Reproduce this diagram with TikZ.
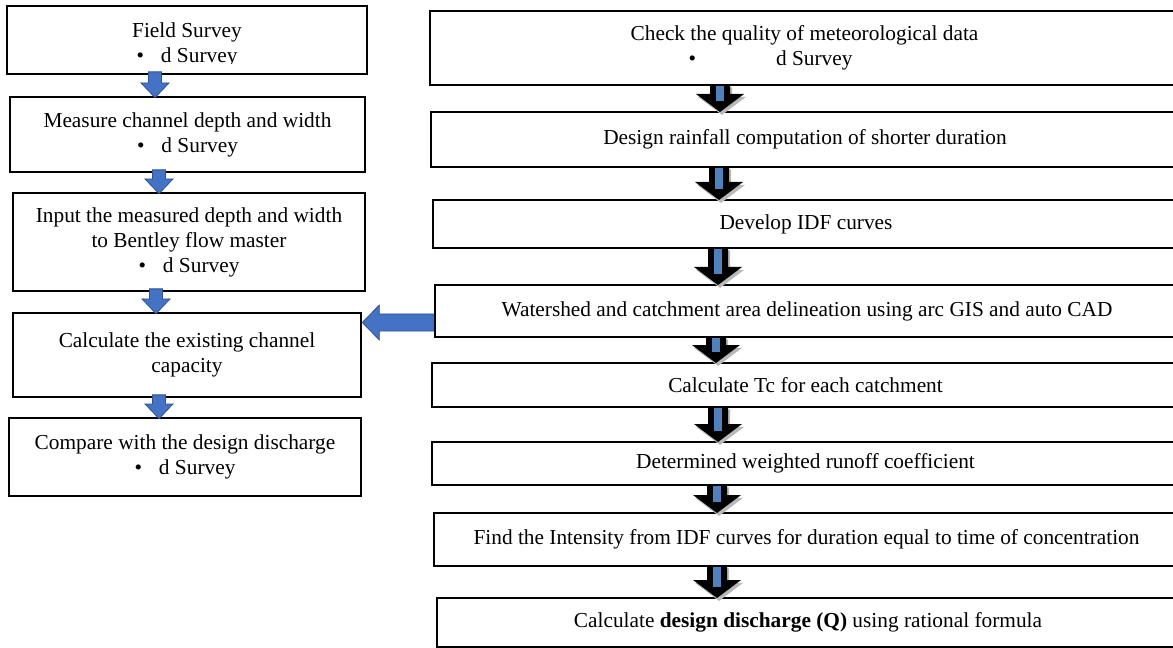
\documentclass[tikz,border=0pt]{standalone}
\usepackage{fontspec}
\setmainfont{Liberation Serif}
\usetikzlibrary{calc}
\definecolor{arrblue}{HTML}{4472C4}
\definecolor{arrborder}{HTML}{2F528F}
\definecolor{stripblue}{HTML}{4F81BD}
% blue block arrow pointing down: from node, to node, x position (px)
\newcommand{\bluedown}[3]{%
  \fill[bluearrow] let \p1=(#1.south), \p2=(#2.north), \n1={#3*0.75} in
   (\n1pt-4.9pt,\y1+2.6pt) -- (\n1pt+4.9pt,\y1+2.6pt) -- (\n1pt+4.9pt,\y2+9.5pt)
   -- (\n1pt+10.5pt,\y2+9.5pt) -- (\n1pt,\y2-1.5pt) -- (\n1pt-10.5pt,\y2+9.5pt)
   -- (\n1pt-4.9pt,\y2+9.5pt) -- cycle;}
% dark block arrow with shadow: from node, to node, x position (px)
\newcommand{\darkdown}[3]{%
  \fill[gray!55] let \p1=(#1.south), \p2=(#2.north), \n1={#3*0.75+1.5} in
   (\n1pt-7.5pt,\y1+1.5pt-2.2pt) -- (\n1pt+7.5pt,\y1+1.5pt-2.2pt) -- (\n1pt+7.5pt,\y2+12.5pt-2.2pt)
   -- (\n1pt+18pt,\y2+12.5pt-2.2pt) -- (\n1pt,\y2-1pt-2.2pt) -- (\n1pt-18pt,\y2+12.5pt-2.2pt)
   -- (\n1pt-7.5pt,\y2+12.5pt-2.2pt) -- cycle;
  \fill[black] let \p1=(#1.south), \p2=(#2.north), \n1={#3*0.75} in
   (\n1pt-7.5pt,\y1+1.5pt) -- (\n1pt+7.5pt,\y1+1.5pt) -- (\n1pt+7.5pt,\y2+12.5pt)
   -- (\n1pt+18pt,\y2+12.5pt) -- (\n1pt,\y2-1pt) -- (\n1pt-18pt,\y2+12.5pt)
   -- (\n1pt-7.5pt,\y2+12.5pt) -- cycle;
  \fill[stripblue] let \p1=(#1.south), \p2=(#2.north), \n1={#3*0.75} in
   (\n1pt-3pt,\y1) rectangle (\n1pt+3pt,\y2+7pt);}
\tikzset{
  box/.style 2 args={draw=black, line width=2pt, inner sep=0pt, fill=white,
    minimum width=#1*0.75pt, minimum height=#2*0.75pt,
    font=\fontsize{16}{18.75}\selectfont, align=center},
  txt/.style={inner sep=0pt, font=\fontsize{16}{18.75}\selectfont, align=center},
  bluearrow/.style={fill=arrblue, draw=arrborder, line width=0.6pt},
}
\begin{document}
\begin{tikzpicture}[x=0.75pt,y=-0.75pt]
\useasboundingbox (0,0) rectangle (1173,648);
\clip (0,0) rectangle (1173,648);
\fill[white] (0,0) rectangle (1173,648);

% left column
\node[box={360}{68}] (L1) at (187,40) {};
\begin{scope}
  \clip (7,6) rectangle (367,63.5);
  \node[txt] (L1t) at (187,45) {Field Survey\\\textbullet\hspace{12.75pt}d Survey};
\end{scope}
\node[box={355}{75}] (L2) at (187.5,134.5) {Measure channel depth and width\\\textbullet\hspace{12.75pt}d Survey};
\node[box={352}{98}] (L3) at (189,242) {Input the measured depth and width\\to Bentley flow master\\\textbullet\hspace{12.75pt}d Survey};
\node[box={348}{84}] (L4) at (187,355) {Calculate the existing channel\\capacity};
\node[box={352}{78}] (L5) at (185,457) {Compare with the design discharge\\\textbullet\hspace{12.75pt}d Survey};

% right column
\node[box={749}{74}] (R1) at (804.5,48) {Check the quality of meteorological data\\\textbullet\hspace{60pt}d Survey\rule{51pt}{0pt}};
\node[box={748}{55}] (R2) at (805,139.5) {Design rainfall computation of shorter duration};
\node[box={746}{48}] (R3) at (806,224) {Develop IDF curves};
\node[box={744}{52}] (R4) at (807,311) {Watershed and catchment area delineation using arc GIS and auto CAD};
\node[box={747}{44}] (R5) at (805.5,385) {Calculate Tc for each catchment};
\node[box={747}{43}] (R6) at (805.5,463.5) {Determined weighted runoff coefficient};
\node[box={745}{53}] (R7) at (806.5,539.5) {Find the Intensity from IDF curves for duration equal to time of concentration};
\node[box={742}{49}] (R8) at (808,622.5) {Calculate \textbf{design discharge (Q)} using rational formula};

% left arrows
\bluedown{L1}{L2}{155}
\bluedown{L2}{L3}{159}
\bluedown{L3}{L4}{156}
\bluedown{L4}{L5}{159}

% right arrows
\darkdown{R1}{R2}{720}
\darkdown{R2}{R3}{719}
\darkdown{R3}{R4}{718}
\darkdown{R4}{R5}{716}
\darkdown{R5}{R6}{718}
\darkdown{R6}{R7}{717}
\darkdown{R7}{R8}{717}

% horizontal arrow from R4 to L4
\fill[bluearrow] let \p1=(R4.west), \p2=(L4.east), \n1={322.5*-0.75} in
  (\x1,\n1pt+6.4pt) -- (\x2+12.75pt,\n1pt+6.4pt) -- (\x2+12.75pt,\n1pt+13.1pt)
  -- (\x2,\n1pt) -- (\x2+12.75pt,\n1pt-13.1pt) -- (\x2+12.75pt,\n1pt-6.4pt)
  -- (\x1,\n1pt-6.4pt) -- cycle;
\end{tikzpicture}
\end{document}
